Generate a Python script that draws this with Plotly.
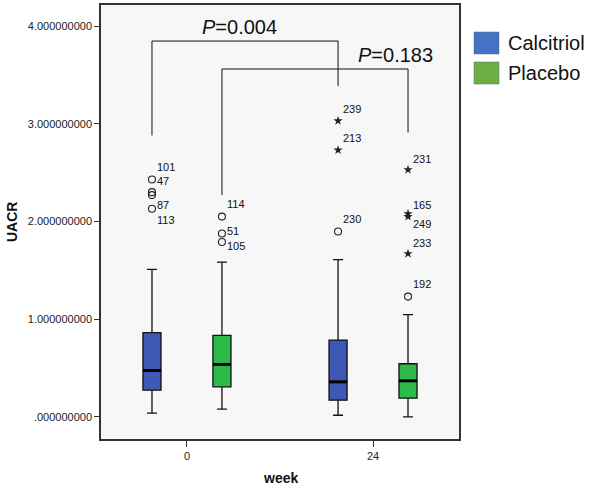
import plotly.graph_objects as go

# ---------------- data ----------------
weeks = ["0", "24"]
groups = ["Calcitriol", "Placebo"]

calc_q1 = [0.274, 0.171]
calc_median = [0.475, 0.359]
calc_q3 = [0.862, 0.786]
calc_low = [0.038, 0.017]
calc_high = [1.51, 1.61]

plac_q1 = [0.308, 0.192]
plac_median = [0.537, 0.369]
plac_q3 = [0.834, 0.544]
plac_low = [0.079, 0.0]
plac_high = [1.583, 1.046]

# outliers
calc_circles_w = [0, 0, 0, 0, 1]
calc_circles_v = [2.43, 2.30, 2.27, 2.13, 1.897]
calc_stars_w = [1, 1]
calc_stars_v = [3.03, 2.73]
plac_circles_w = [0, 0, 0, 1]
plac_circles_v = [2.05, 1.877, 1.79, 1.231]
plac_stars_w = [1, 1, 1, 1]
plac_stars_v = [2.53, 2.08, 2.05, 1.67]

calc_labels = ["101", "47", "87", "113", "239", "213", "230"]
calc_labels_w = [0, 0, 0, 0, 1, 1, 1]
calc_labels_y = [2.56, 2.41, 2.17, 2.01, 3.15, 2.85, 2.03]
plac_labels = ["114", "51", "105", "231", "165", "249", "233", "192"]
plac_labels_w = [0, 0, 0, 1, 1, 1, 1, 1]
plac_labels_y = [2.18, 1.905, 1.754, 2.64, 2.164, 1.97, 1.78, 1.364]

p_texts = ["P=0.004", "P=0.183"]
bracket_top = [3.846, 3.56]
bracket_left_bottom = [2.88, 2.27]
bracket_right_bottom = [3.385, 2.91]

y_tickvals = [0, 1, 2, 3, 4]
y_ticktext = [".000000000", "1.000000000", "2.000000000", "3.000000000", "4.000000000"]

# ---------------- style ----------------
OFF = 0.188
BW = 0.097
calc_color = "#3D58B5"
plac_color = "#2DBA4A"
legend_colors = ["#4472C4", "#6DAE45"]
FONT = "Arial, Liberation Sans, sans-serif"

L, R, T, B = 101, 148, 5, 51
PW, PH = 607 - L - R, 490 - T - B

fig = go.Figure()

def xpos(idx_list, off):
    return [i + off for i in idx_list]

for q1, med, q3, lo, hi, off, col, name in [
    (calc_q1, calc_median, calc_q3, calc_low, calc_high, -OFF, calc_color, groups[0]),
    (plac_q1, plac_median, plac_q3, plac_low, plac_high, OFF, plac_color, groups[1]),
]:
    fig.add_trace(go.Box(
        x=xpos(range(len(weeks)), off), q1=q1, median=med, q3=q3,
        lowerfence=lo, upperfence=hi, width=BW, whiskerwidth=0.55,
        fillcolor=col, line=dict(color="#111111", width=1.3),
        boxpoints=False, name=name, showlegend=False,
    ))
    fig.add_trace(go.Scatter(
        x=[v for i in range(len(weeks)) for v in (i + off - BW / 2, i + off + BW / 2, None)],
        y=[v for m in med for v in (m, m, None)],
        mode="lines", line=dict(color="#000000", width=3), showlegend=False, hoverinfo="skip",
    ))

for w, v, off in [(calc_circles_w, calc_circles_v, -OFF), (plac_circles_w, plac_circles_v, OFF)]:
    fig.add_trace(go.Scatter(
        x=xpos(w, off), y=v, mode="markers",
        marker=dict(symbol="circle-open", size=7, color="#222222", line=dict(width=1.1)),
        showlegend=False,
    ))
for w, v, off in [(calc_stars_w, calc_stars_v, -OFF), (plac_stars_w, plac_stars_v, OFF)]:
    fig.add_trace(go.Scatter(
        x=xpos(w, off), y=v, mode="markers",
        marker=dict(symbol="star", size=7, color="#222222", line=dict(width=0)),
        showlegend=False,
    ))

for labs, w, ys, off in [(calc_labels, calc_labels_w, calc_labels_y, -OFF),
                         (plac_labels, plac_labels_w, plac_labels_y, OFF)]:
    for lab, wi, yy in zip(labs, w, ys):
        fig.add_annotation(x=wi + off, y=yy, text=lab, showarrow=False,
                           xanchor="left", yanchor="middle", xshift=3,
                           font=dict(family=FONT, size=11, color="#111111"))

# brackets
for k, off in enumerate([-OFF, OFF]):
    x0, x1 = 0 + off, 1 + off
    fig.add_trace(go.Scatter(
        x=[x0, x0, x1, x1],
        y=[bracket_left_bottom[k], bracket_top[k], bracket_top[k], bracket_right_bottom[k]],
        mode="lines", line=dict(color="#111111", width=1), showlegend=False, hoverinfo="skip",
    ))

fig.add_annotation(x=0.5 - OFF, y=bracket_top[0], text="<i>P</i>=0.004", showarrow=False,
                   xanchor="center", yanchor="bottom", yshift=1, xshift=-6,
                   font=dict(family=FONT, size=20, color="#111111"))
fig.add_annotation(x=1 + OFF, y=bracket_top[1], text="<i>P</i>=0.183", showarrow=False,
                   xanchor="center", yanchor="bottom", yshift=1, xshift=-13,
                   font=dict(family=FONT, size=20, color="#111111"))

# legend drawn manually
for k, (g, c) in enumerate(zip(groups, legend_colors)):
    y0 = 32 + k * 30
    fig.add_shape(type="rect", xref="paper", yref="paper",
                  x0=(474 - L) / PW, x1=(499 - L) / PW,
                  y0=1 - (y0 + 22 - T) / PH, y1=1 - (y0 - T) / PH,
                  fillcolor=c, line=dict(color="#5a6a80", width=0.5))
    fig.add_annotation(xref="paper", yref="paper", x=(506 - L) / PW,
                       y=1 - (y0 + 11 - T) / PH, text=g, showarrow=False,
                       xanchor="left", yanchor="middle",
                       font=dict(family=FONT, size=20, color="#111111"))

# axis titles
fig.add_annotation(xref="paper", yref="paper", x=(280 - L) / PW, y=1 - (478 - T) / PH,
                   text="<b>week</b>", showarrow=False, xanchor="center", yanchor="middle",
                   font=dict(family=FONT, size=14, color="#111111"))
fig.add_annotation(xref="paper", yref="paper", x=(12 - L) / PW, y=1 - (222 - T) / PH,
                   text="<b>UACR</b>", showarrow=False, textangle=-90,
                   xanchor="center", yanchor="middle",
                   font=dict(family=FONT, size=14, color="#111111"))

fig.update_layout(
    width=607, height=490,
    margin=dict(l=L, r=R, t=T, b=B, autoexpand=False),
    paper_bgcolor="white", plot_bgcolor="#F7F7F7",
    boxmode="overlay", showlegend=False,
    font=dict(family=FONT, color="#222222"),
)
fig.update_xaxes(
    range=[-0.462, 1.462], tickvals=[0, 1], ticktext=weeks, automargin=False,
    ticks="outside", ticklen=6, tickcolor="#333333",
    showgrid=False, zeroline=False,
    showline=True, linecolor="#333333", linewidth=1.5, mirror=True,
    tickfont=dict(family=FONT, size=11, color="#222222"),
)
fig.update_yaxes(
    range=[-0.226, 4.215], tickvals=y_tickvals, ticktext=y_ticktext, automargin=False,
    ticks="outside", ticklen=5, tickcolor="#333333",
    showgrid=False, zeroline=False,
    showline=True, linecolor="#333333", linewidth=1.5, mirror=True,
    tickfont=dict(family=FONT, size=11, color="#222222"),
)

fig.write_html("out.html", config={"displayModeBar": False},
               post_script="document.body.style.margin='0';")
